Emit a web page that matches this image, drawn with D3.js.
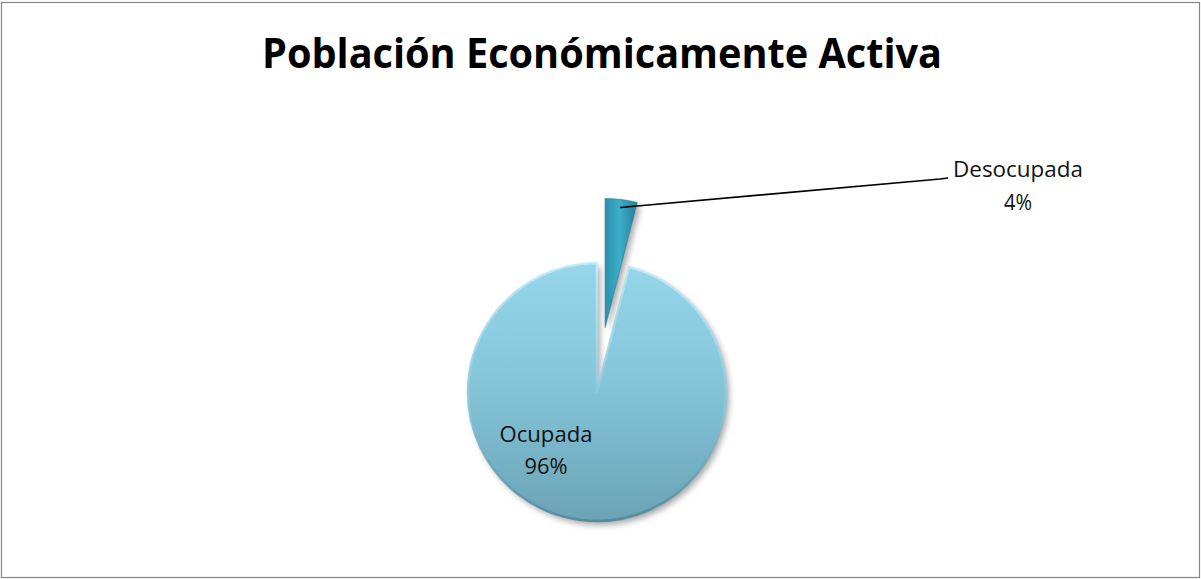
<!DOCTYPE html>
<html>
<head>
<meta charset="utf-8">
<script src="https://cdn.jsdelivr.net/npm/d3@7"></script>
<style>
  html, body { margin: 0; padding: 0; background: #fff; }
  svg { display: block; font-family: "Open Sans", "Noto Sans", sans-serif; }
</style>
</head>
<body>
<div id="chart"></div>
<script>
// Data
const categories = ["Desocupada", "Ocupada"];
const values = [4, 96];
const percentLabels = ["4%", "96%"];
const chartTitle = "Población Económicamente Activa";

const width = 1201, height = 579;
const cx = 597, cy = 392, radius = 129;
const explode = { "Desocupada": 65, "Ocupada": 0 };

const svg = d3.select("#chart").append("svg")
    .attr("width", width)
    .attr("height", height);

const defs = svg.append("defs");

// Ocupada: light blue, darker towards bottom
const gBig = defs.append("linearGradient").attr("id", "gradBig")
    .attr("x1", 0).attr("y1", 0).attr("x2", 0).attr("y2", 1);
gBig.append("stop").attr("offset", "0%").attr("stop-color", "#96d6ea");
gBig.append("stop").attr("offset", "45%").attr("stop-color", "#86c6da");
gBig.append("stop").attr("offset", "100%").attr("stop-color", "#6aa3b5");

// Bevel stroke: highlight top, shadow bottom
const gEdge = defs.append("linearGradient").attr("id", "gradEdge")
    .attr("x1", 0).attr("y1", 0).attr("x2", 0).attr("y2", 1);
gEdge.append("stop").attr("offset", "0%").attr("stop-color", "#c4ecf7");
gEdge.append("stop").attr("offset", "55%").attr("stop-color", "#8cc8dc");
gEdge.append("stop").attr("offset", "100%").attr("stop-color", "#4f8799");

// Desocupada: teal, darker sides
const gSmall = defs.append("linearGradient").attr("id", "gradSmall")
    .attr("x1", 0).attr("y1", 0).attr("x2", 1).attr("y2", 0);
gSmall.append("stop").attr("offset", "0%").attr("stop-color", "#2a90ad");
gSmall.append("stop").attr("offset", "45%").attr("stop-color", "#3eadc9");
gSmall.append("stop").attr("offset", "100%").attr("stop-color", "#237f9a");

const shadow = defs.append("filter").attr("id", "shadow")
    .attr("x", "-20%").attr("y", "-20%").attr("width", "140%").attr("height", "140%");
shadow.append("feDropShadow")
    .attr("dx", 3).attr("dy", 4).attr("stdDeviation", 3)
    .attr("flood-color", "#000").attr("flood-opacity", 0.35);

// Outer border
svg.append("rect")
    .attr("x", 1.5).attr("y", 2.5)
    .attr("width", width - 3).attr("height", height - 4)
    .attr("fill", "#fff")
    .attr("stroke", "#868686")
    .attr("stroke-width", 1.2);

// Title
svg.append("text")
    .attr("x", 602).attr("y", 68)
    .attr("text-anchor", "middle")
    .attr("textLength", 680)
    .attr("lengthAdjust", "spacingAndGlyphs")
    .style("font-size", "42px")
    .style("font-weight", "bold")
    .attr("fill", "#000")
    .text(chartTitle);

// Pie
const data = categories.map((c, i) => ({ cat: c, value: values[i], label: percentLabels[i] }));
const pie = d3.pie().sort(null).value(d => d.value).startAngle(0).endAngle(2 * Math.PI);
const arc = d3.arc().innerRadius(0).outerRadius(radius);
const arcs = pie(data);

const pieG = svg.append("g").attr("transform", `translate(${cx},${cy})`);

const offsetOf = d => {
    const mid = (d.startAngle + d.endAngle) / 2;
    const e = explode[d.data.cat];
    return [e * Math.sin(mid), -e * Math.cos(mid)];
};

arcs.slice().reverse().forEach(d => {
    const [dx, dy] = offsetOf(d);
    const isBig = d.data.cat === "Ocupada";
    const g = pieG.append("g").attr("transform", `translate(${dx},${dy})`);
    g.append("path")
        .attr("d", arc(d))
        .attr("fill", isBig ? "url(#gradBig)" : "url(#gradSmall)")
        .attr("filter", "url(#shadow)");
    g.append("path")
        .attr("d", arc(d))
        .attr("fill", "none")
        .attr("stroke", isBig ? "url(#gradEdge)" : "#1f7690")
        .attr("stroke-opacity", isBig ? 0.9 : 0.5)
        .attr("stroke-width", isBig ? 2.5 : 1.2)
        .attr("stroke-linejoin", "round");
});

// Labels
const small = arcs.find(d => d.data.cat === "Desocupada");
const big = arcs.find(d => d.data.cat === "Ocupada");

// Leader line for Desocupada
{
    const [dx, dy] = offsetOf(small);
    const mid = (small.startAngle + small.endAngle) / 2;
    const ax = cx + dx + (radius - 8) * Math.sin(mid);
    const ay = cy + dy - (radius - 8) * Math.cos(mid);
    svg.append("polyline")
        .attr("points", `${ax},${ay} 940,179 948,178`)
        .attr("fill", "none")
        .attr("stroke", "#000")
        .attr("stroke-width", 1.6);

    const t = svg.append("text")
        .attr("text-anchor", "middle")
        .style("font-size", "21px")
        .attr("fill", "#111");
    t.append("tspan").attr("x", 1018).attr("y", 177)
        .attr("textLength", 130).attr("lengthAdjust", "spacingAndGlyphs")
        .text(small.data.cat);
    t.append("tspan").attr("x", 1018).attr("y", 210)
        .attr("textLength", 28).attr("lengthAdjust", "spacingAndGlyphs")
        .text(small.data.label);
}

{
    const t = svg.append("text")
        .attr("text-anchor", "middle")
        .style("font-size", "21px")
        .attr("fill", "#111");
    t.append("tspan").attr("x", 546).attr("y", 442)
        .attr("textLength", 93).attr("lengthAdjust", "spacingAndGlyphs")
        .text(big.data.cat);
    t.append("tspan").attr("x", 546).attr("y", 474)
        .attr("textLength", 43).attr("lengthAdjust", "spacingAndGlyphs")
        .text(big.data.label);
}
</script>
</body>
</html>
